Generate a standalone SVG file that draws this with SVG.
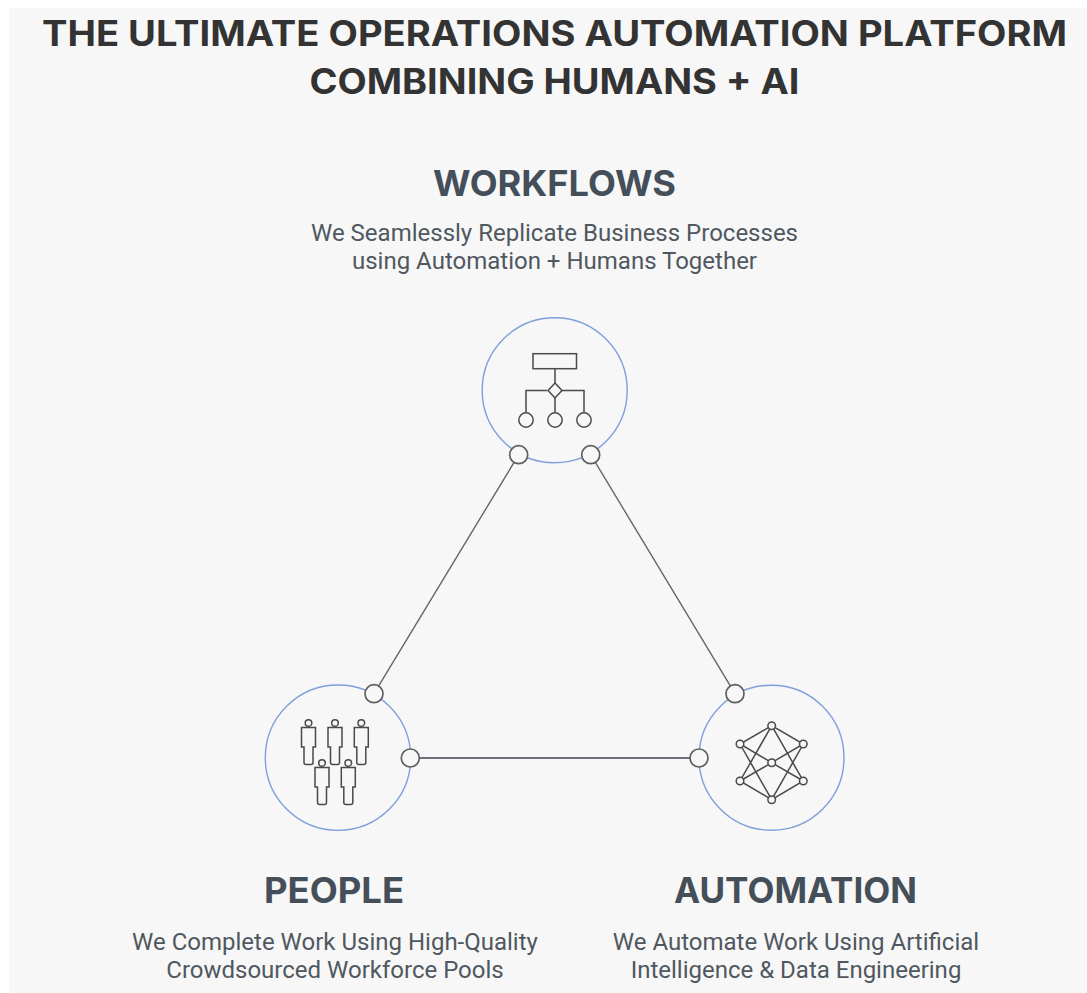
<svg xmlns="http://www.w3.org/2000/svg" width="1087" height="993" viewBox="0 0 1087 993">
<style>
.bg{fill:#f7f7f7}
.t{font-family:"Inter","Liberation Sans",sans-serif;font-weight:700;text-anchor:middle}
.title{fill:#333;font-size:35px}
.head{fill:#444f5a;font-size:35px}
.sub{font-family:"Roboto","Liberation Sans",sans-serif;fill:#50585f;font-size:24px;text-anchor:middle}
.big{fill:none;stroke:#7f9fdc;stroke-width:1.4}
.dot{fill:#f7f7f7;stroke:#5f5f5f;stroke-width:1.7}
.ln{fill:none;stroke:#666;stroke-width:1.4}
.ln2{fill:none;stroke:#6a6f78;stroke-width:2}
.ic{fill:none;stroke:#4a4a4a;stroke-width:1.5}
.icf{fill:#f7f7f7;stroke:#4a4a4a;stroke-width:1.5}
</style>
<rect width="1087" height="993" fill="#fff"/>
<rect class="bg" x="9" y="8" width="1078" height="985"/>
<text class="t title" x="554.5" y="46" textLength="1025" lengthAdjust="spacingAndGlyphs">THE ULTIMATE OPERATIONS AUTOMATION PLATFORM</text>
<text class="t title" x="554.5" y="94" textLength="490" lengthAdjust="spacingAndGlyphs">COMBINING HUMANS + AI</text>
<g id="connectors">
<path class="ln" d="M518.7 454.7L374 693.7M590.7 454.7L735 693.7"/>
<path class="ln2" d="M410.3 758H699"/>
</g>
<g id="workflows">
<text class="t head" x="554.5" y="196" textLength="243" lengthAdjust="spacingAndGlyphs">WORKFLOWS</text>
<text class="sub" x="554.5" y="241">We Seamlessly Replicate Business Processes</text>
<text class="sub" x="554.5" y="269">using Automation + Humans Together</text>
<circle class="big" cx="554.7" cy="390.3" r="72.5"/>
<rect class="ic" x="533" y="353.7" width="43.5" height="15"/>
<path class="ic" d="M555 368.7V383M555 398V412M526 412V390.5H547M562 390.5H584V412"/>
<path class="icf" d="M555 383L562 390.5L555 398L548 390.5Z"/>
<circle class="icf" cx="526" cy="420" r="7.2"/>
<circle class="icf" cx="555" cy="420" r="7.2"/>
<circle class="icf" cx="584" cy="420" r="7.2"/>
<circle class="dot" cx="518.7" cy="454.7" r="9"/>
<circle class="dot" cx="590.7" cy="454.7" r="9"/>
</g>
<g id="people">
<text class="t head" x="334" y="903" textLength="140" lengthAdjust="spacingAndGlyphs">PEOPLE</text>
<text class="sub" x="335" y="950">We Complete Work Using High-Quality</text>
<text class="sub" x="335" y="978">Crowdsourced Workforce Pools</text>
<circle class="big" cx="338" cy="757.7" r="72.7"/>
<defs><g id="person"><circle class="ic" cx="0" cy="-4" r="3.3"/><path class="ic" d="M-7 0.5H7V20H4.5V35.5Q4.5 37.5 2.5 37.5H-2.5Q-4.5 37.5 -4.5 35.5V20H-7Z"/></g></defs>
<use href="#person" x="308.5" y="727"/>
<use href="#person" x="335" y="727"/>
<use href="#person" x="361.3" y="727"/>
<use href="#person" x="322" y="767"/>
<use href="#person" x="348.3" y="767"/>
<circle class="dot" cx="374" cy="693.7" r="9"/>
<circle class="dot" cx="410.3" cy="758" r="9"/>
</g>
<g id="automation">
<text class="t head" x="795.5" y="903" textLength="243" lengthAdjust="spacingAndGlyphs">AUTOMATION</text>
<text class="sub" x="796" y="950">We Automate Work Using Artificial</text>
<text class="sub" x="796" y="978">Intelligence &amp; Data Engineering</text>
<circle class="big" cx="771.5" cy="757.7" r="72.5"/>
<path class="ic" d="M771.7 725.7L740 744L771.7 762.7L803.3 744ZM771.7 725.7L740 781L771.7 799.7L803.3 781ZM771.7 725.7L803.3 781M771.7 799.7L740 744M771.7 799.7L803.3 744M740 781L771.7 762.7L803.3 781"/>
<circle class="icf" cx="771.7" cy="725.7" r="3.8"/>
<circle class="icf" cx="740" cy="744" r="3.8"/>
<circle class="icf" cx="803.3" cy="744" r="3.8"/>
<circle class="icf" cx="771.7" cy="762.7" r="3.8"/>
<circle class="icf" cx="740" cy="781" r="3.8"/>
<circle class="icf" cx="803.3" cy="781" r="3.8"/>
<circle class="icf" cx="771.7" cy="799.7" r="3.8"/>
<circle class="dot" cx="735" cy="693.7" r="9"/>
<circle class="dot" cx="699" cy="758" r="9"/>
</g>
</svg>
